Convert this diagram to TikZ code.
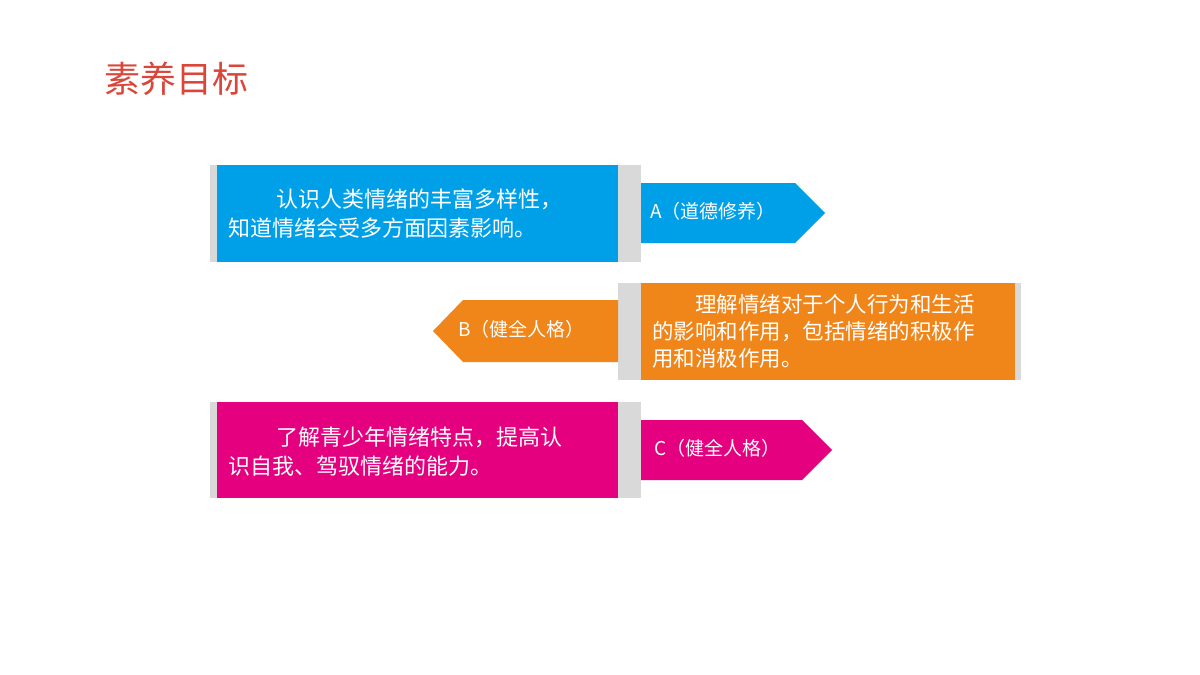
\documentclass[tikz,border=0pt]{standalone}
\usepackage{fontspec}
\newfontfamily\cjk{Noto Sans CJK SC}
\definecolor{cblue}{HTML}{00A0E9}
\definecolor{corange}{HTML}{F08519}
\definecolor{cmag}{HTML}{E4007F}
\definecolor{cgray}{HTML}{D9D9D9}
\definecolor{cred}{HTML}{D9473A}
\tikzset{
  body/.style={inner sep=0pt,anchor=west,align=left,text=white,font=\cjk\fontsize{22}{28.5}\selectfont},
  tag/.style={inner sep=0pt,anchor=west,text=white,font=\cjk\fontsize{19}{22}\selectfont},
}
\begin{document}
\begin{tikzpicture}[x=1pt,y=-1pt]
\useasboundingbox (0,0) rectangle (1200,675);
\fill[white] (0,0) rectangle (1200,675);
\node[anchor=west,inner sep=0pt,text=cred,font=\cjk\fontsize{36}{40}\selectfont] (title) at (104,79) {素养目标};
% A
\fill[cgray] (210,165) rectangle (641,262);
\fill[cblue] (217,165) rectangle (618,262);
\fill[cblue] (641,183) -- (795,183) -- (825,213) -- (795,243) -- (641,243) -- cycle;
\node[body] (ta) at (228,213.5) {\hspace*{2.2em}认识人类情绪的丰富多样性，\\知道情绪会受多方面因素影响。};
\node[tag] (la) at (650,211) {A（道德修养）};
% B
\fill[cgray] (618,283) rectangle (1021,380);
\fill[corange] (641,283) rectangle (1015,380);
\fill[corange] (618,300) -- (463,300) -- (433,331) -- (463,362) -- (618,362) -- cycle;
\node[body,font=\cjk\fontsize{21.5}{27}\selectfont] (tb) at (652,331) {\hspace*{2em}理解情绪对于个人行为和生活\\的影响和作用，包括情绪的积极作\\用和消极作用。};
\node[tag] (lb) at (458,329) {B（健全人格）};
% C
\fill[cgray] (210,402) rectangle (641,498);
\fill[cmag] (217,402) rectangle (618,498);
\fill[cmag] (641,420) -- (802,420) -- (832,450) -- (802,480) -- (641,480) -- cycle;
\node[body] (tc) at (228,451.5) {\hspace*{2.2em}了解青少年情绪特点，提高认\\识自我、驾驭情绪的能力。};
\node[tag] (lc) at (654,448) {C（健全人格）};
\end{tikzpicture}
\end{document}
